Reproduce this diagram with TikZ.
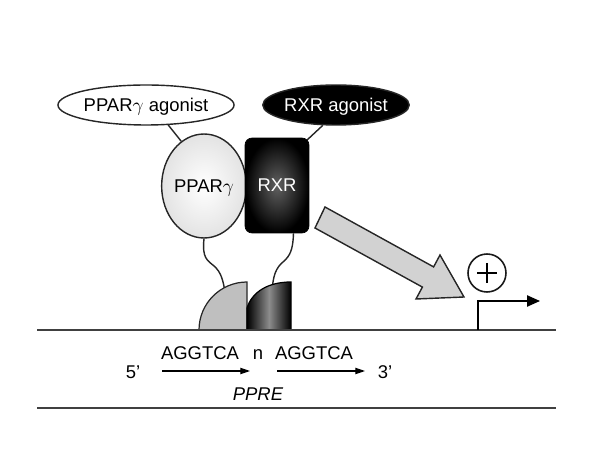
\documentclass[tikz,border=0pt]{standalone}
\usepackage{fontspec}
\setmainfont{Liberation Sans}
\usetikzlibrary{shapes.geometric, arrows.meta, positioning, calc, backgrounds}
\tikzset{every node/.append style={align=center, inner sep=3pt}}

\begin{document}
\begin{tikzpicture}[x=0.02cm, y=-0.02cm, font=\fontsize{10.5}{12}\selectfont,
    ag/.style={ellipse, draw=black!85, line width=0.8pt, minimum width=3.52cm, minimum height=0.8cm, inner sep=0pt, text depth=0pt},
    pp/.style={ellipse, draw=black!85, line width=0.8pt, inner color=white, outer color=gray!22, minimum width=1.64cm, minimum height=2.08cm, inner sep=0pt, text depth=0pt},
    rx/.style={rectangle, rounded corners=4pt, draw=black, inner color=black!62, outer color=black, text=white, minimum width=1.28cm, minimum height=1.9cm, inner sep=0pt, text depth=0pt},
    link/.style={draw=black!85, line width=0.8pt},
    dna/.style={draw=black!75, line width=0.9pt},
    seq/.style={-{Triangle[length=5.5pt, width=3.6pt]}, line width=0.6pt},
    lbl/.style={anchor=base, inner sep=0pt}]
\useasboundingbox (0,0) rectangle (591,472);

% receptors and ligands
\node[ag] (pa) at (146,105) {PPAR$\gamma$ agonist};
\node[ag, fill=black, text=white, minimum width=2.92cm] (ra) at (336,105) {RXR agonist};
\node[pp] (ppar) at (204,186) {PPAR$\gamma$};
\node[rx] (rxr) at (277,185.5) {RXR};

\begin{scope}[on background layer]
\draw[link] (pa.-42) -- (ppar.117);
\draw[link] (ra.-123) -- ($(rxr.north east)+(-3,3)$);
\draw[link] (ppar.south) .. controls (202,258) and (207,260) .. (214,266)
    .. controls (221,272) and (223,280) .. (225,292);
\draw[link] (rxr.-71) .. controls (293,250) and (290,256) .. (283,262)
    .. controls (276,268) and (273,275) .. (272,292);
\end{scope}

% DNA binding domains
\draw[draw=black!85, line width=0.7pt, fill=gray!50] (247,330) -- (199,330) arc[start angle=180, end angle=270, radius=48] -- cycle;
\shadedraw[draw=black, line width=0.7pt, left color=black, right color=black, middle color=black!45]
    (247,330) -- (247,308) .. controls (252,292) and (268,282) .. (291,282) -- (291,330) -- cycle;

% DNA
\coordinate (ta) at (37,330);
\coordinate (tb) at (556,330);
\coordinate (ba) at (37,408);
\coordinate (bb) at (556,408);
\draw[dna] (ta) -- (tb);
\draw[dna] (ba) -- (bb);

% activation
\draw[draw=black!85, line width=0.8pt, fill=gray!35, line join=miter]
    (325,207) -- (433.6,266.9) -- (440,255) -- (464,297) -- (416,299) -- (422.4,287.1) -- (315,228) -- cycle;
\node[circle, draw=black!90, line width=0.9pt, minimum size=0.76cm, inner sep=0pt] (plus) at (487,273) {};
\draw[line width=1.6pt] ($(plus)+(-10,0)$) -- ($(plus)+(10,0)$);
\draw[line width=1.6pt] ($(plus)+(0,-10)$) -- ($(plus)+(0,10)$);
\coordinate (tss) at (478,330);
\coordinate (tssend) at (540,301);
\draw[line width=0.9pt, -{Triangle[length=7.4pt, width=6.4pt]}] (tss) |- (tssend);

% response element
\node[lbl] (s1) at (200,360) {AGGTCA};
\node[lbl] (nn) at (258,360) {n};
\node[lbl] (s2) at (314,360) {AGGTCA};
\node[lbl] (five) at (133,378) {5'};
\node[lbl] (three) at (385,378) {3'};
\node[lbl, font=\fontsize{10.5}{12}\selectfont\itshape] (ppre) at (258,400) {PPRE};
\coordinate (a1) at (162,371);
\coordinate (a1e) at (250,371);
\coordinate (a2) at (277,371);
\coordinate (a2e) at (365,371);
\draw[seq] (a1) -- (a1e);
\draw[seq] (a2) -- (a2e);
\end{tikzpicture}
\end{document}
